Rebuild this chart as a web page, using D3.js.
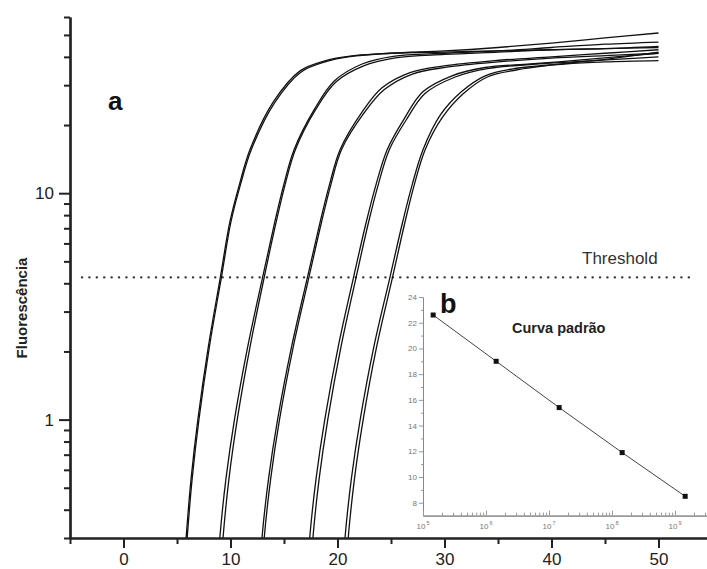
<!DOCTYPE html>
<html><head><meta charset="utf-8">
<script src="https://cdn.jsdelivr.net/npm/d3@7"></script>
<style>html,body{margin:0;padding:0;background:#fff;} svg{display:block;font-family:"Liberation Sans",Arial,sans-serif;}</style>
</head><body>
<svg id="chart" width="707" height="569"></svg>
<script>
// ---------- data ----------
// amplification curves: [cycle, fluorescence]
const curve1a = [[5.6,0.2],[5.85,0.3],[6.32,0.55],[6.95,1],[7.93,2.1],[9.05,4.25],[9.95,7.5],[10.85,11],[11.85,15.7],[14.0,25.3],[16.5,34.7],[18.8,38.4],[21,40.2],[25,41.5],[30,42.5],[35,44],[40,46],[45,48.5],[50,51]];
const curve1b = [[5.7,0.2],[5.95,0.3],[6.42,0.55],[7.05,1],[8.03,2.1],[9.15,4.25],[10.05,7.5],[10.95,11],[11.95,15.6],[14.1,25],[16.6,34.3],[19,38.2],[21,40],[25,41.5],[30,42],[35,42.5],[40,43],[45,43.5],[50,44.5]];
const curve2a = [[8.75,0.2],[9.0,0.3],[9.58,0.55],[10.37,1],[11.61,2.1],[13.0,4.25],[14.15,7.5],[15.0,11],[15.95,15.6],[17.85,23.5],[19.7,31.3],[22.3,37.2],[25.2,40.2],[30,41.5],[35,42.5],[40,44],[45,45.5],[50,46.5]];
const curve2b = [[9.05,0.2],[9.3,0.3],[9.86,0.55],[10.63,1],[11.83,2.1],[13.15,4.25],[14.28,7.5],[15.12,11],[16.07,15.6],[17.98,23.5],[19.85,31],[22.5,36.6],[25.4,39.6],[30,41],[35,42],[40,43],[45,43.5],[50,44]];
const curve3a = [[12.7,0.2],[12.94,0.3],[13.56,0.55],[14.4,1],[15.71,2.1],[17.19,4.25],[18.39,7.5],[19.27,11],[20.25,15.6],[22.29,22.8],[24.16,29.2],[26.78,34.1],[29.95,36.5],[34.7,38.5],[40,40],[45,41.5],[50,43]];
const curve3b = [[12.9,0.2],[13.15,0.3],[13.76,0.55],[14.58,1],[15.87,2.1],[17.33,4.25],[18.52,7.5],[19.4,11],[20.38,15.6],[22.45,22.5],[24.35,28.6],[27,33.6],[30.2,36],[35,38],[40,39.5],[45,40.5],[50,41.5]];
const curve4a = [[17.15,0.2],[17.4,0.3],[18.0,0.55],[18.81,1],[20.07,2.1],[21.5,4.25],[22.7,7.5],[23.62,11],[24.65,15.6],[26.2,21.2],[28.0,28.1],[30.7,33],[33.8,35.9],[38,37.2],[42,38.5],[46,40],[50,41.5]];
const curve4b = [[17.45,0.2],[17.7,0.3],[18.29,0.55],[19.09,1],[20.33,2.1],[21.74,4.25],[22.92,7.5],[23.83,11],[24.85,15.6],[26.4,21],[28.2,27.6],[31,32.6],[34,35.5],[38,37],[42,38],[46,39],[50,40]];
const curve5a = [[20.45,0.2],[20.7,0.3],[21.3,0.55],[22.12,1],[23.4,2.1],[24.9,4.25],[26.1,7.5],[27.0,11],[28.0,15.6],[29.6,22.1],[31.6,28.1],[33.8,33],[36.4,35.4],[41.2,37.2],[45,38],[50,38.5]];
const curve5b = [[20.75,0.2],[21.0,0.3],[21.59,0.55],[22.4,1],[23.66,2.1],[25.14,4.25],[26.32,7.5],[27.2,11],[28.2,15.6],[29.8,21.6],[31.8,27.6],[34.0,32.6],[36.7,35],[41.5,37.5],[45,39],[50,42]];
const curves = [curve1a,curve1b,curve2a,curve2b,curve3a,curve3b,curve4a,curve4b,curve5a,curve5b];
const thresholdValue = 4.25;
const xMajorTicks = [0,10,20,30,40,50];
const xMinorTicks = [-5,5,15,25,35,45,55];
const yMajorTicks = [1,10];
const yMinorTicks = [0.3,0.4,0.5,0.6,0.7,0.8,0.9,2,3,4,5,6,7,8,9,20,30,40,50,60];

// standard curve inset
const stdConc = [1.45e5,1.45e6,1.45e7,1.45e8,1.45e9];
const stdCt = [22.6,19.0,15.4,11.9,8.5];
const insetYTicks = [8,10,12,14,16,18,20,22,24];
const insetYMinor = [9,11,13,15,17,19,21,23];
const insetXExponents = [5,6,7,8,9];

// ---------- drawing ----------
const svg = d3.select("#chart");
const x = d3.scaleLinear().domain([-5,55]).range([70,712]);
const y = d3.scaleLog().domain([0.3,60]).range([538,17]);

svg.append("defs").append("clipPath").attr("id","clip")
  .append("rect").attr("x",70).attr("y",17).attr("width",637).attr("height",521);

// threshold
svg.append("line").attr("x1",82).attr("x2",692)
  .attr("y1",y(thresholdValue)).attr("y2",y(thresholdValue))
  .attr("stroke","#333").attr("stroke-width",2.4)
  .attr("stroke-dasharray","0.1,7.3").attr("stroke-linecap","round");
svg.append("text").attr("x",582).attr("y",264).attr("font-size",17).attr("fill","#333").text("Threshold");

// curves
const line = d3.line().x(d=>x(d[0])).y(d=>y(d[1])).curve(d3.curveCatmullRom.alpha(0.5));
svg.append("g").attr("clip-path","url(#clip)").selectAll("path").data(curves).join("path")
  .attr("d",line).attr("fill","none").attr("stroke","#111").attr("stroke-width",1.3);

// axes
const gx = svg.append("g").attr("transform","translate(0,538)");
gx.call(d3.axisBottom(x).tickValues(xMajorTicks).tickSize(10).tickPadding(5).tickSizeOuter(0));
const gx2 = svg.append("g").attr("transform","translate(0,538)");
gx2.call(d3.axisBottom(x).tickValues(xMinorTicks).tickSize(6).tickFormat("").tickSizeOuter(0));
[gx,gx2].forEach(g=>{g.select(".domain").attr("stroke","#222").attr("stroke-width",2.2);
  g.selectAll(".tick line").attr("stroke","#222").attr("stroke-width",2);});
gx.selectAll(".tick text").attr("font-size",17).attr("fill","#222").attr("font-family","Liberation Sans, Arial, sans-serif");

const gy = svg.append("g").attr("transform","translate(70,0)");
gy.call(d3.axisLeft(y).tickValues(yMajorTicks).tickSize(11).tickPadding(5).tickSizeOuter(0).tickFormat(d3.format("d")));
const gy2 = svg.append("g").attr("transform","translate(70,0)");
gy2.call(d3.axisLeft(y).tickValues(yMinorTicks).tickSize(6).tickFormat("").tickSizeOuter(0));
[gy,gy2].forEach(g=>{g.select(".domain").attr("stroke","#222").attr("stroke-width",2.2);
  g.selectAll(".tick line").attr("stroke","#222").attr("stroke-width",2);});
gy.selectAll(".tick text").attr("font-size",17).attr("fill","#222").attr("font-family","Liberation Sans, Arial, sans-serif");

svg.append("text").attr("transform","translate(27,308) rotate(-90)").attr("text-anchor","middle")
  .attr("font-size",15).attr("font-weight","bold").attr("fill","#222").text("Fluorescência");
svg.append("text").attr("x",108).attr("y",110).attr("font-size",26).attr("font-weight","bold").attr("fill","#111").text("a");

// ---------- inset ----------
const ix = d3.scaleLog().domain([1e5,Math.pow(10,9.5)]).range([423,706.5]);
const iy = d3.scaleLinear().domain([7,24]).range([515.6,297]);
const inset = svg.append("g");
const iyAxis = inset.append("g").attr("transform","translate(423,0)")
  .call(d3.axisLeft(iy).tickValues(insetYTicks).tickSize(4).tickPadding(2).tickSizeOuter(0));
const iyMinor = inset.append("g").attr("transform","translate(423,0)")
  .call(d3.axisLeft(iy).tickValues(insetYMinor).tickSize(2).tickFormat("").tickSizeOuter(0));
const minorX = [];
insetXExponents.forEach(e=>{ for (let m=2;m<=9;m++){ const v=m*Math.pow(10,e); if (v<=Math.pow(10,9.5)) minorX.push(v);} });
const ixMinor = inset.append("g").attr("transform","translate(0,515.6)")
  .call(d3.axisTop(ix).tickValues(minorX).tickSize(3).tickFormat("").tickSizeOuter(0));
const ixMajor = inset.append("g").attr("transform","translate(0,515.6)")
  .call(d3.axisTop(ix).tickValues(insetXExponents.map(e=>Math.pow(10,e))).tickSize(5).tickFormat("").tickSizeOuter(0));
ixMajor.selectAll(".tick text").remove();
[iyAxis,iyMinor,ixMinor,ixMajor].forEach(g=>{g.selectAll(".domain").attr("stroke","#888").attr("stroke-width",1);
  g.selectAll(".tick line").attr("stroke","#999").attr("stroke-width",1);});
iyAxis.selectAll(".tick text").attr("font-size",8).attr("fill","#777");
const xl = inset.append("g").selectAll("g").data(insetXExponents).join("g")
  .attr("transform",e=>`translate(${ix(Math.pow(10,e))},529)`);
xl.append("text").attr("x",-2).attr("text-anchor","middle").attr("font-size",8).attr("fill","#777").text("10");
xl.append("text").attr("x",3.5).attr("y",-4).attr("font-size",5.5).attr("fill","#777").text(e=>e);

const stdData = stdConc.map((c,i)=>[c,stdCt[i]]);
inset.append("path").datum(stdData).attr("fill","none").attr("stroke","#444").attr("stroke-width",1)
  .attr("d",d3.line().x(d=>ix(d[0])).y(d=>iy(d[1])));
inset.selectAll("rect.pt").data(stdData).join("rect").attr("class","pt")
  .attr("x",d=>ix(d[0])-2.5).attr("y",d=>iy(d[1])-2.5).attr("width",5).attr("height",5).attr("fill","#111");
svg.append("text").attr("x",440).attr("y",313).attr("font-size",27).attr("font-weight","bold").attr("fill","#111").text("b");
svg.append("text").attr("x",512).attr("y",333).attr("font-size",14.5).attr("font-weight","bold").attr("fill","#222").text("Curva padrão");
</script>
</body></html>
